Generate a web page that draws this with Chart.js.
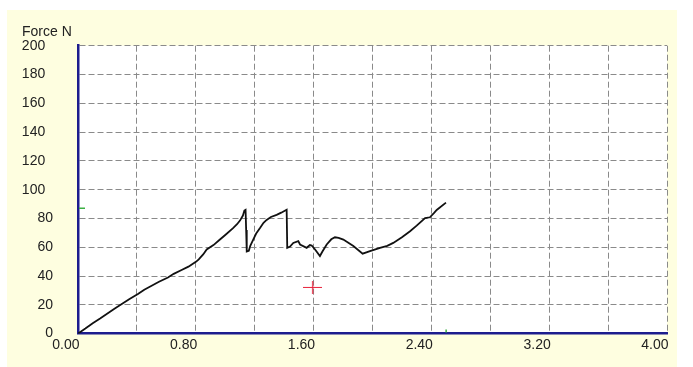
<!DOCTYPE html>
<html>
<head>
<meta charset="utf-8">
<title>Force N</title>
<script src="https://cdn.jsdelivr.net/npm/chart.js@4.4.1/dist/chart.umd.min.js"></script>
<style>
  html, body { margin: 0; padding: 0; background: #ffffff; overflow: hidden; }
  #wrap { width: 693px; height: 367px; }
  canvas { display: block; }
</style>
</head>
<body>
<div id="wrap"><canvas id="chart" width="693" height="367"></canvas></div>
<script>
// Test record: displacement (mm) against force (N)
const displacement = [
  0.00, 0.05, 0.10, 0.15, 0.20, 0.25, 0.30, 0.35, 0.407, 0.45,
  0.50, 0.55, 0.611, 0.65, 0.70, 0.75, 0.803, 0.82, 0.85, 0.874,
  0.92, 0.96, 1.00, 1.053, 1.08, 1.10, 1.12, 1.13, 1.138, 1.142,
  1.146, 1.16, 1.17, 1.19, 1.21, 1.236, 1.26, 1.281, 1.31, 1.349,
  1.38, 1.417, 1.421, 1.44, 1.462, 1.496, 1.508, 1.553, 1.575, 1.587,
  1.61, 1.643, 1.66, 1.689, 1.72, 1.745, 1.77, 1.802, 1.87, 1.933,
  1.983, 2.051, 2.10, 2.141, 2.20, 2.255, 2.30, 2.357, 2.39, 2.42,
  2.436, 2.499
];
const force = [
  0.0, 3.5, 7.2, 10.5, 14.0, 17.5, 20.8, 24.0, 27.5, 30.5,
  33.2, 36.0, 39.0, 41.5, 44.0, 46.5, 50.0, 51.5, 55.0, 58.4,
  61.5, 65.0, 68.5, 73.3, 76.0, 78.5, 82.0, 85.5, 86.0, 72.0,
  57.0, 57.5, 61.0, 65.3, 69.5, 73.3, 77.0, 79.0, 81.0, 82.5,
  84.0, 86.0, 59.6, 60.5, 63.0, 64.2, 61.9, 59.6, 61.5, 61.2,
  58.4, 53.9, 57.0, 61.9, 65.5, 66.9, 66.5, 65.3, 60.8, 55.5,
  57.3, 59.6, 61.0, 63.0, 67.0, 71.1, 75.0, 80.2, 80.8, 84.0,
  85.9, 91.0
];

// Cursor marker and peak markers on the axes
const cursorDisplacement = [1.594];
const cursorForce = [32.1];
const peakMarkerForce = 87;
const peakMarkerDisplacement = 2.5;

// Axis tick labels
const xTickLabels = ['0.00', '0.80', '1.60', '2.40', '3.20', '4.00'];
const yTickValues = [0, 20, 40, 60, 80, 100, 120, 140, 160, 180, 200];

const curvePoints = displacement.map((d, i) => ({ x: d, y: force[i] }));
const cursorPoints = cursorDisplacement.map((d, i) => ({ x: d, y: cursorForce[i] }));

const FONT = '"Liberation Sans", Arial, sans-serif';
const TEXT = '#222222';
const AXIS_BLUE = '#1c1c8e';
const GRID_GREY = '#8a8a8a';

// Red "+" cursor glyph, slightly wider than tall
const cursorGlyph = document.createElement('canvas');
cursorGlyph.width = 19;
cursorGlyph.height = 13;
(function () {
  const g = cursorGlyph.getContext('2d');
  g.strokeStyle = '#e8203a';
  g.lineWidth = 1.2;
  g.beginPath();
  g.moveTo(0, 6.5); g.lineTo(19, 6.5);
  g.moveTo(9.5, 0); g.lineTo(9.5, 13);
  g.stroke();
})();

// Cream panel behind the chart and white plot area
const panelPlugin = {
  id: 'panel',
  beforeDraw(chart) {
    const { ctx, chartArea } = chart;
    ctx.save();
    ctx.fillStyle = '#ffffff';
    ctx.fillRect(0, 0, chart.width, chart.height);
    ctx.fillStyle = '#fefee0';
    ctx.fillRect(7, 10, 670, chart.height - 10);
    ctx.fillStyle = '#ffffff';
    ctx.fillRect(chartArea.left, chartArea.top, chartArea.right - chartArea.left, chartArea.bottom - chartArea.top);
    ctx.restore();
  }
};

// Small green marks on the axes at the peak values
const peakMarksPlugin = {
  id: 'peakMarks',
  afterDatasetsDraw(chart) {
    const { ctx, scales } = chart;
    const yPix = scales.y.getPixelForValue(peakMarkerForce);
    const xPix = scales.x.getPixelForValue(peakMarkerDisplacement);
    const left = scales.x.left;
    const bottom = scales.y.bottom;
    ctx.save();
    ctx.strokeStyle = '#3cb043';
    ctx.lineWidth = 1.5;
    ctx.beginPath();
    ctx.moveTo(left + 1, yPix); ctx.lineTo(left + 7, yPix);
    ctx.moveTo(xPix, bottom - 1); ctx.lineTo(xPix, bottom - 4);
    ctx.stroke();
    ctx.restore();
  }
};

new Chart(document.getElementById('chart'), {
  type: 'line',
  data: {
    datasets: [
      {
        label: 'Force',
        data: curvePoints,
        borderColor: '#111111',
        borderWidth: 1.8,
        pointRadius: 0,
        tension: 0,
        fill: false
      },
      {
        type: 'scatter',
        label: 'Cursor',
        data: cursorPoints,
        pointStyle: cursorGlyph,
        pointRadius: 7,
        showLine: false
      }
    ]
  },
  options: {
    responsive: false,
    animation: false,
    devicePixelRatio: 1,
    layout: { padding: { left: 22, right: 26, top: 0, bottom: 0 } },
    plugins: {
      legend: { display: false },
      tooltip: { enabled: false },
      title: {
        display: true,
        text: 'Force N',
        align: 'start',
        color: TEXT,
        font: { family: FONT, size: 14, weight: 'normal', lineHeight: 1.2 },
        padding: { top: 23.5, bottom: 5.4 }
      }
    },
    scales: {
      x: {
        type: 'linear',
        min: 0,
        max: 4,
        ticks: {
          stepSize: 0.4,
          autoSkip: false,
          maxRotation: 0,
          align: 'end',
          labelOffset: 1.5,
          padding: 3,
          color: TEXT,
          font: { family: FONT, size: 14 },
          callback: (v, i) => (i % 2 === 0 ? xTickLabels[i / 2] : '')
        },
        grid: { color: GRID_GREY, lineWidth: 1, drawTicks: false },
        border: { display: true, color: AXIS_BLUE, width: 2.5, dash: [6, 3] },
        afterFit(scale) { scale.height = 30.3; }
      },
      y: {
        type: 'linear',
        min: yTickValues[0],
        max: yTickValues[yTickValues.length - 1],
        afterBuildTicks(scale) { scale.ticks = yTickValues.map(v => ({ value: v })); },
        ticks: {
          padding: 25,
          color: TEXT,
          font: { family: FONT, size: 14 },
          callback: v => (v >= 100 ? v + '\u0020\u0020' : String(v))
        },
        grid: { color: GRID_GREY, lineWidth: 1, drawTicks: false },
        border: { display: true, color: AXIS_BLUE, width: 2.5, dash: [6, 3] },
        afterFit(scale) { scale.width = 56; }
      }
    }
  },
  plugins: [panelPlugin, peakMarksPlugin]
});
</script>
</body>
</html>
